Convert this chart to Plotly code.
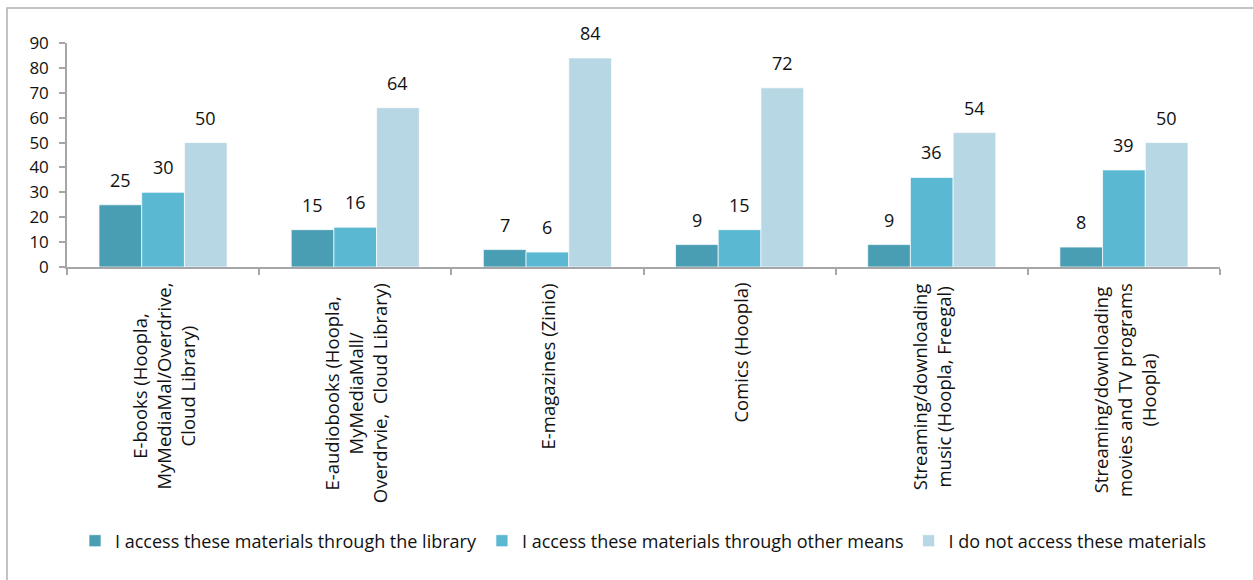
import plotly.graph_objects as go

# Survey results: how respondents access each type of digital material (%)
categories = [
    "E-books (Hoopla,<br>MyMediaMal/Overdrive,<br>Cloud Library)",
    "E-audiobooks (Hoopla,<br>MyMediaMall/<br>Overdrvie,  Cloud Library)",
    "E-magazines (Zinio)",
    "Comics (Hoopla)",
    "Streaming/downloading<br>music (Hoopla, Freegal)",
    "Streaming/downloading<br>movies and TV programs<br>(Hoopla)",
]
series_names = [
    "I access these materials through the library",
    "I access these materials through other means",
    "I do not access these materials",
]
via_library = [25, 15, 7, 9, 9, 8]
via_other = [30, 16, 6, 15, 36, 39]
no_access = [50, 64, 84, 72, 54, 50]
y_ticks = [0, 10, 20, 30, 40, 50, 60, 70, 80, 90]

series_values = [via_library, via_other, no_access]
colors = ["#4A9EB4", "#5BB8D3", "#B7D7E4"]

FONT = "Open Sans"
W, H = 1253, 580
L, R, T, B = 67, 33, 43, 313
BARGAP = 1 / 3
plot_w = W - L - R
plot_h = H - T - B
bar_px = plot_w / len(categories) * (1 - BARGAP) / len(series_values)

fig = go.Figure()
for name, vals, col in zip(series_names, series_values, colors):
    fig.add_trace(go.Bar(
        name=name, x=list(range(len(categories))), y=vals,
        marker=dict(color=col, line=dict(color="rgba(255,255,255,0.7)", width=1)),
    ))

annotations = []
# value labels above each bar
for i, vals in enumerate(series_values):
    offset = (i - (len(series_values) - 1) / 2) * bar_px
    for j, v in enumerate(vals):
        annotations.append(dict(
            x=j, y=v, xref="x", yref="y", text=str(v), showarrow=False,
            xshift=offset, yshift=25, yanchor="middle",
            font=dict(family=FONT, size=18, color="#111"),
        ))
# rotated, centre-aligned category labels below the axis
for j, cat in enumerate(categories):
    annotations.append(dict(
        x=j, y=0, xref="x", yref="y", text=cat, showarrow=False,
        textangle=-90, align="center", yanchor="top", xanchor="center",
        yshift=-14, font=dict(family=FONT, size=18.5, color="#111"),
    ))

axis_col = "#A6A6A6"
fig.update_layout(
    width=W, height=H,
    margin=dict(l=L, r=R, t=T, b=B, pad=0),
    paper_bgcolor="white", plot_bgcolor="white",
    barmode="group", bargap=BARGAP, bargroupgap=0,
    font=dict(family=FONT, size=16, color="#111"),
    xaxis=dict(
        type="linear", range=[-0.5, len(categories) - 0.5],
        tickvals=[k - 0.5 for k in range(len(categories) + 1)],
        showticklabels=False, ticks="outside", ticklen=6, tickcolor=axis_col,
        tickwidth=1.5, showline=True, linecolor=axis_col, linewidth=1.5,
        showgrid=False, zeroline=False, fixedrange=True,
    ),
    yaxis=dict(
        range=[0, 90], tickvals=y_ticks, ticks="outside", ticklen=6,
        tickcolor=axis_col, tickwidth=1.5, showline=True, linecolor=axis_col,
        linewidth=1.5, showgrid=False, zeroline=False, ticklabelstandoff=7,
        tickfont=dict(family=FONT, size=17, color="#111"),
    ),
    legend=dict(
        orientation="h", x=0.5, xanchor="center",
        y=(plot_h - (541 - T)) / plot_h, yanchor="middle",
        font=dict(family=FONT, size=18, color="#111"),
        itemwidth=30, tracegroupgap=0,
    ),
    annotations=annotations,
    shapes=[dict(
        type="rect", xref="paper", yref="paper", layer="below",
        x0=(7 - L) / plot_w, x1=(W + 10 - L) / plot_w,
        y0=-(H + 10 - T - plot_h) / plot_h, y1=(plot_h + T - 8) / plot_h,
        line=dict(color="#B0B0B0", width=1.5), fillcolor="rgba(0,0,0,0)",
    )],
    showlegend=True,
)

fig.write_html("out.html")
